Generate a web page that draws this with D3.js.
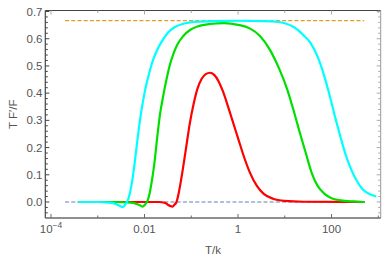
<!DOCTYPE html>
<html><head><meta charset="utf-8">
<script src="https://cdn.jsdelivr.net/npm/d3@7"></script>
<style>
html,body{margin:0;padding:0;background:#fff;}
svg{display:block;}
text{font-family:"Liberation Sans",Arial,sans-serif;}
</style></head>
<body>
<svg id="chart" width="386" height="262"></svg>
<script>
// ---- data (log10(T/k) exponents and T F'/F values) ----
const cyanLogT = [-3.398,-3.0,-2.75,-2.6,-2.52,-2.466,-2.43,-2.40,-2.374,-2.33,-2.28,-2.22,-2.15,-2.08,-2.0,-1.92,-1.84,-1.74,-1.63,-1.5,-1.35,-1.15,-0.9,-0.5,0.0,0.5,0.8,1.0,1.2,1.4,1.55,1.7,1.85,1.97,2.08,2.19,2.3,2.42,2.54,2.66,2.78,2.94];
const cyanVals = [0,0,-0.002,-0.008,-0.015,-0.019,-0.014,-0.006,0,0.02,0.06,0.13,0.23,0.32,0.40,0.46,0.51,0.555,0.59,0.622,0.643,0.656,0.662,0.665,0.666,0.665,0.663,0.657,0.642,0.613,0.585,0.535,0.46,0.385,0.31,0.24,0.175,0.12,0.078,0.048,0.032,0.021];

const greenLogT = [-3.398,-2.6,-2.3,-2.15,-2.08,-2.039,-2.0,-1.97,-1.947,-1.90,-1.85,-1.79,-1.73,-1.67,-1.60,-1.53,-1.455,-1.38,-1.3,-1.17,-1.027,-0.85,-0.6,-0.3,0.0,0.25,0.47,0.68,0.88,1.05,1.2,1.33,1.45,1.57,1.7,1.85,2.0,2.2,2.45,2.69];
const greenVals = [0,0,-0.002,-0.008,-0.014,-0.017,-0.012,-0.005,0,0.025,0.07,0.14,0.235,0.32,0.39,0.45,0.505,0.545,0.578,0.61,0.632,0.646,0.654,0.657,0.651,0.638,0.61,0.56,0.49,0.415,0.33,0.25,0.18,0.11,0.06,0.03,0.014,0.006,0.002,0];

const redLogT = [-3.398,-1.7,-1.56,-1.50,-1.45,-1.401,-1.36,-1.316,-1.26,-1.19,-1.11,-1.03,-0.95,-0.87,-0.78,-0.69,-0.6,-0.51,-0.42,-0.33,-0.23,-0.12,0.0,0.12,0.25,0.4,0.55,0.75,1.0,1.4,2.69];
const redVals = [0,0,-0.003,-0.01,-0.015,-0.017,-0.01,0,0.04,0.11,0.2,0.29,0.36,0.415,0.452,0.47,0.475,0.467,0.445,0.41,0.36,0.30,0.235,0.17,0.11,0.06,0.03,0.012,0.004,0.001,0];

const refLogT = [-3.699, 2.699];
const upperRef = [2/3, 2/3];
const lowerRef = [0, 0];

const xMajorTicks = [1e-4, 1e-2, 1, 100];
const xMajorLabels = [["10","-4"], ["0.01",""], ["1",""], ["100",""]];
const xMinorTicks = [1e-3, 1e-1, 10, 1000];
const yMajorTicks = [0,0.1,0.2,0.3,0.4,0.5,0.6,0.7];
const yTickLabels = ["0.0","0.1","0.2","0.3","0.4","0.5","0.6","0.7"];
const xTitle = "T/k";
const yTitle = "T F\u2032/F";

// ---- layout ----
const L = 45.3, R = 380.7, T = 10.5, B = 218;
const svg = d3.select("#chart");
const x = d3.scaleLog().domain([Math.pow(10,-4.122), Math.pow(10,3.052)]).range([L, R]);
const y = d3.scaleLinear().domain([-0.0588, 0.7037]).range([B, T]);

const toPts = (lt, vs) => lt.map((l,i)=>({t:Math.pow(10,l), v:vs[i]}));
const line = d3.line().x(d=>x(d.t)).y(d=>y(d.v)).curve(d3.curveMonotoneX);

const plot = svg.append("g");
// reference dashed lines
plot.append("path").datum(toPts(refLogT, lowerRef)).attr("d", d3.line().x(d=>x(d.t)).y(d=>y(d.v)))
  .attr("fill","none").attr("stroke","#5E81B5").attr("stroke-width",1.2).attr("stroke-dasharray","4,2.2");
plot.append("path").datum(toPts(refLogT, upperRef)).attr("d", d3.line().x(d=>x(d.t)).y(d=>y(d.v)))
  .attr("fill","none").attr("stroke","#E19C24").attr("stroke-width",1.2).attr("stroke-dasharray","4,2.2");

[[redLogT,redVals,"#FF0000"],[greenLogT,greenVals,"#00E000"],[cyanLogT,cyanVals,"#00FFFF"]].forEach(([lt,vs,c])=>{
  plot.append("path").datum(toPts(lt,vs)).attr("d", line)
    .attr("fill","none").attr("stroke",c).attr("stroke-width",2.2).attr("stroke-linejoin","round").attr("stroke-linecap","round");
});

// ---- frame ----
const frameCol = "#6a6a6a";
const ax = svg.append("g");
ax.append("line").attr("x1",L).attr("x2",R).attr("y1",T).attr("y2",T).attr("stroke","#444").attr("stroke-width",1);
ax.append("line").attr("x1",R).attr("x2",R).attr("y1",T).attr("y2",B).attr("stroke","#999").attr("stroke-width",1);
ax.append("line").attr("x1",L).attr("x2",R).attr("y1",B).attr("y2",B).attr("stroke",frameCol).attr("stroke-width",1.5);
ax.append("line").attr("x1",L).attr("x2",L).attr("y1",T).attr("y2",B).attr("stroke","#444").attr("stroke-width",1.2);

// x ticks
xMajorTicks.forEach(t=>{
  const px = x(t);
  ax.append("line").attr("x1",px).attr("x2",px).attr("y1",B).attr("y2",B-4).attr("stroke",frameCol);
  ax.append("line").attr("x1",px).attr("x2",px).attr("y1",T).attr("y2",T+4).attr("stroke","#aaa");
});
xMinorTicks.filter(t=>x(t)<R).forEach(t=>{
  const px = x(t);
  ax.append("line").attr("x1",px).attr("x2",px).attr("y1",B).attr("y2",B-2.5).attr("stroke",frameCol);
  ax.append("line").attr("x1",px).attr("x2",px).attr("y1",T).attr("y2",T+2.5).attr("stroke","#aaa");
});
xMajorTicks.forEach((t,i)=>{
  const [base, sup] = xMajorLabels[i];
  const tx = ax.append("text").attr("x", x(t)).attr("y", 232.5).attr("text-anchor","middle")
    .attr("font-size",11.5).attr("fill","#555");
  tx.append("tspan").text(base);
  if (sup) tx.append("tspan").attr("dy",-5).attr("font-size",8.5).text("\u2212"+sup.replace("-",""));
});

// y ticks
const yMinor = d3.range(-0.04, 0.7001, 0.02).filter(v => !yMajorTicks.some(m=>Math.abs(m-v)<1e-6));
yMajorTicks.forEach((v,i)=>{
  const py = y(v);
  ax.append("line").attr("x1",L).attr("x2",L+4).attr("y1",py).attr("y2",py).attr("stroke","#444");
  ax.append("line").attr("x1",R).attr("x2",R-4).attr("y1",py).attr("y2",py).attr("stroke","#aaa");
  ax.append("text").attr("x",42.5).attr("y",py+4).attr("text-anchor","end")
    .attr("font-size",11.5).attr("fill","#555").text(yTickLabels[i]);
});
yMinor.forEach(v=>{
  const py = y(v);
  ax.append("line").attr("x1",L).attr("x2",L+2.5).attr("y1",py).attr("y2",py).attr("stroke","#444");
  ax.append("line").attr("x1",R).attr("x2",R-2.5).attr("y1",py).attr("y2",py).attr("stroke","#aaa");
});

// titles
ax.append("text").attr("x",(L+R)/2).attr("y",254).attr("text-anchor","middle")
  .attr("font-size",11.5).attr("fill","#555").text(xTitle);
ax.append("text").attr("transform",`translate(16.5,${(T+B)/2}) rotate(-90)`).attr("text-anchor","middle")
  .attr("font-size",11.5).attr("fill","#555").text(yTitle);
</script>
</body></html>
